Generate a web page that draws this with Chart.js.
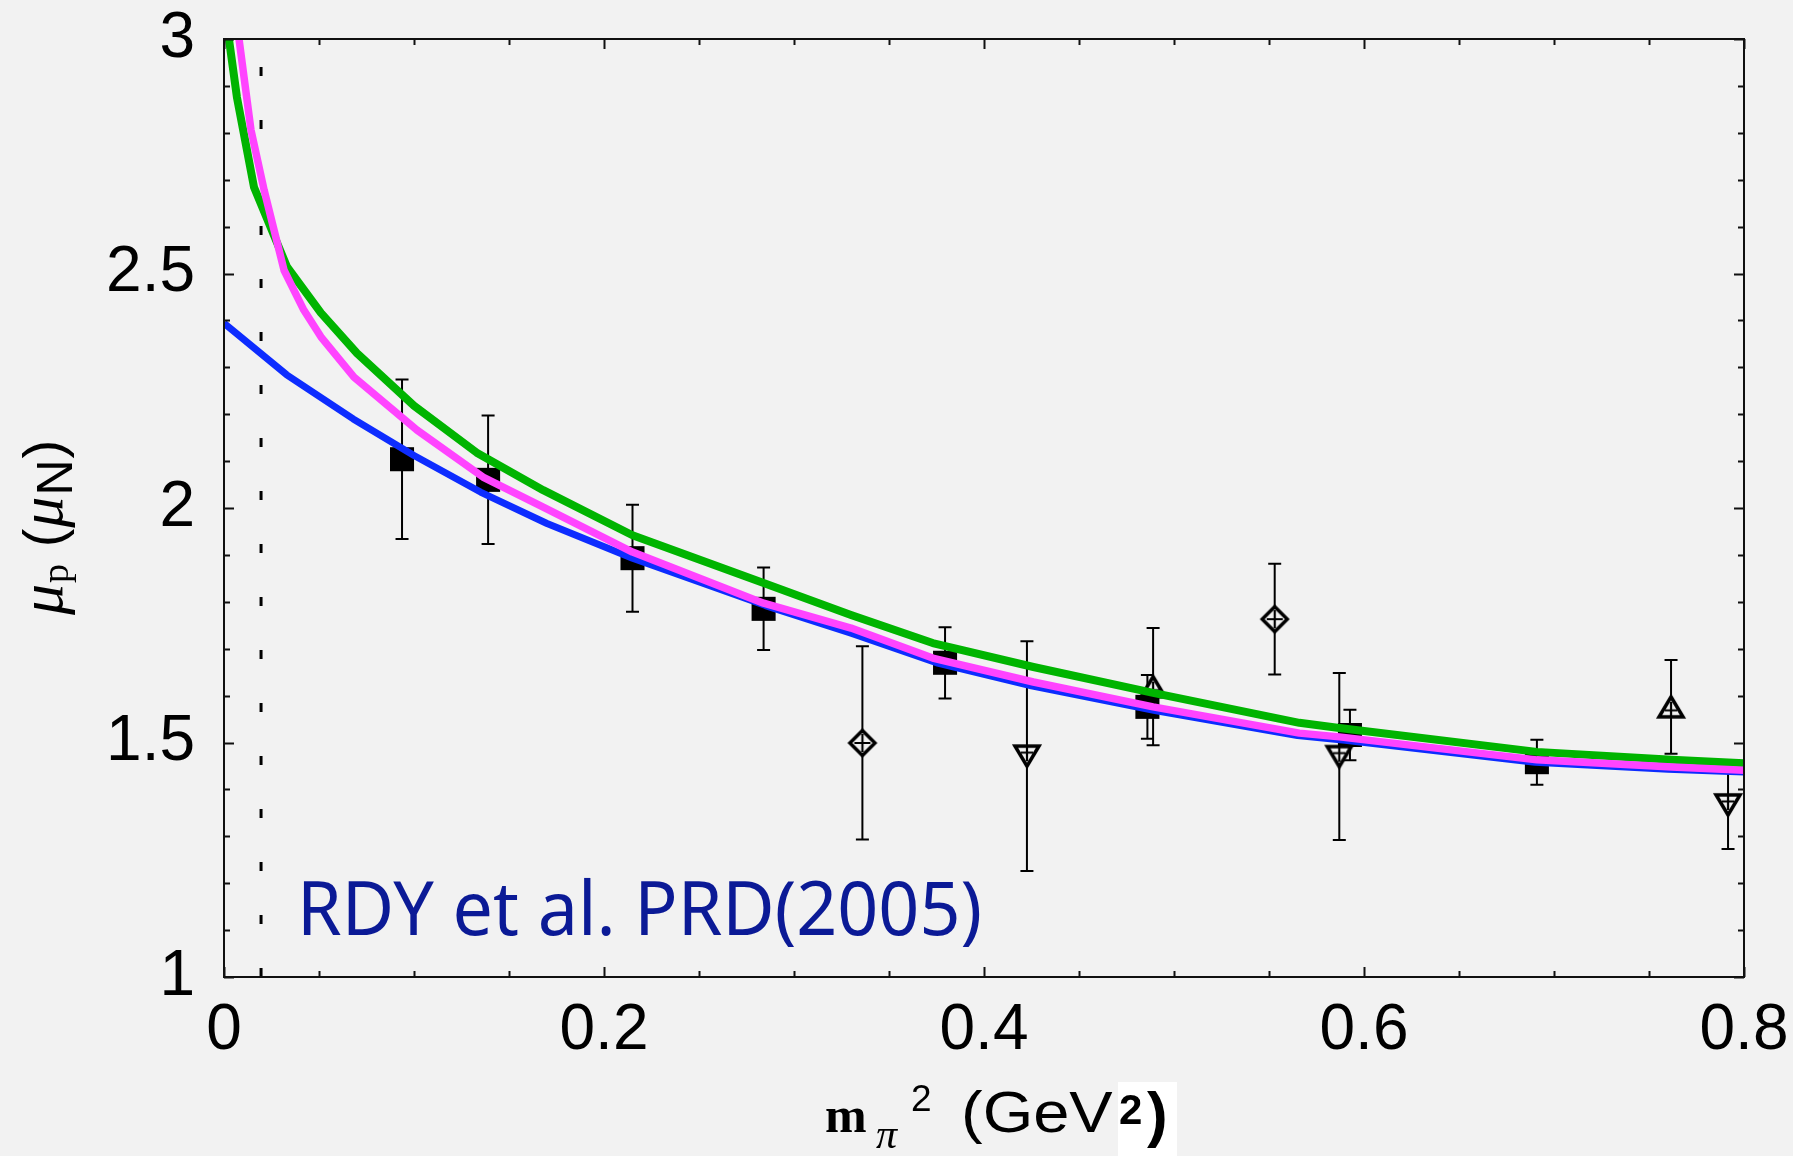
<!DOCTYPE html>
<html>
<head>
<meta charset="utf-8">
<title>mu_p vs m_pi^2</title>
<script src="https://cdn.jsdelivr.net/npm/chart.js@4.4.1/dist/chart.umd.min.js"></script>
<style>
  html, body { margin: 0; padding: 0; background: #f2f2f2; }
  #wrap { width: 1793px; height: 1156px; }
</style>
</head>
<body>
<div id="wrap"><canvas id="mu-p" width="1793" height="1156"></canvas></div>
<script>
// lattice data (x = m_pi^2 in GeV^2, y = mu_p in mu_N)
const squareX = [0.0937, 0.139, 0.215, 0.284, 0.3795, 0.486, 0.5926, 0.691];
const squareY = [2.104, 2.060, 1.893, 1.785, 1.670, 1.576, 1.516, 1.458];
const squareErr = [0.170, 0.137, 0.114, 0.088, 0.076, 0.068, 0.054, 0.048];

const diamondX = [0.336, 0.553];
const diamondY = [1.499, 1.763];
const diamondErr = [0.206, 0.118];

const triUpX = [0.489, 0.7616];
const triUpY = [1.619, 1.576];
const triUpErr = [0.125, 0.100];

const triDownX = [0.4226, 0.587, 0.7916];
const triDownY = [1.471, 1.470, 1.367];
const triDownErr = [0.245, 0.178, 0.094];

// chiral extrapolation curves
const blueX = [0, 0.033, 0.068, 0.1, 0.135, 0.17, 0.215, 0.285, 0.33, 0.375, 0.425, 0.49, 0.565, 0.59, 0.69, 0.76, 0.8];
const blueY = [2.394, 2.284, 2.190, 2.112, 2.034, 1.967, 1.893, 1.792, 1.733, 1.670, 1.621, 1.568, 1.515, 1.505, 1.458, 1.443, 1.437];

const greenX = [0.0026, 0.0068, 0.0158, 0.0332, 0.051, 0.07, 0.1, 0.133, 0.168, 0.215, 0.284, 0.33, 0.373, 0.426, 0.489, 0.566, 0.587, 0.691, 0.762, 0.8];
const greenY = [3.0, 2.876, 2.684, 2.514, 2.416, 2.330, 2.218, 2.118, 2.038, 1.942, 1.840, 1.772, 1.712, 1.661, 1.606, 1.542, 1.531, 1.480, 1.463, 1.456];

const magentaX = [0.0079, 0.0142, 0.0211, 0.0316, 0.042, 0.051, 0.0684, 0.1016, 0.1363, 0.168, 0.215, 0.284, 0.33, 0.373, 0.426, 0.489, 0.566, 0.587, 0.691, 0.762, 0.8];
const magentaY = [3.0, 2.806, 2.678, 2.507, 2.422, 2.365, 2.279, 2.166, 2.066, 2.002, 1.906, 1.797, 1.744, 1.680, 1.629, 1.576, 1.520, 1.512, 1.463, 1.448, 1.441];

// physical pion mass squared (dashed line)
const physicalX = [0.0195];

const xTickLabels = ['0', '0.2', '0.4', '0.6', '0.8'];
const yTickLabels = ['1', '1.5', '2', '2.5', '3'];

const BG = '#f2f2f2';
const SANS = "'Liberation Sans', Arial, Helvetica, sans-serif";
const SERIF = "'Liberation Serif', 'Times New Roman', serif";

function pts(xs, ys) {
  return xs.map((x, i) => ({ x: x, y: ys[i] }));
}

// open symbols with a small cross inside
function makeMarker(kind) {
  const c = document.createElement('canvas');
  c.width = 32; c.height = 32;
  const g = c.getContext('2d');
  g.strokeStyle = '#000';
  g.fillStyle = BG;
  g.lineWidth = 3.5;
  g.beginPath();
  if (kind === 'diamond') {
    g.moveTo(16, 3.5); g.lineTo(28.5, 16); g.lineTo(16, 28.5); g.lineTo(3.5, 16);
  } else if (kind === 'up') {
    g.moveTo(16, 6); g.lineTo(28, 26); g.lineTo(4, 26);
  } else {
    g.moveTo(4, 6); g.lineTo(28, 6); g.lineTo(16, 26);
  }
  g.closePath();
  g.fill();
  g.stroke();
  g.lineWidth = 2.2;
  g.beginPath();
  if (kind === 'diamond') {
    g.moveTo(8, 16); g.lineTo(24, 16); g.moveTo(16, 7); g.lineTo(16, 25);
  } else if (kind === 'up') {
    g.moveTo(10, 19.5); g.lineTo(22, 19.5); g.moveTo(16, 11); g.lineTo(16, 26);
  } else {
    g.moveTo(10, 12.5); g.lineTo(22, 12.5); g.moveTo(16, 6); g.lineTo(16, 21);
  }
  g.stroke();
  return c;
}

const errorSets = [
  [squareX, squareY, squareErr],
  [diamondX, diamondY, diamondErr],
  [triUpX, triUpY, triUpErr],
  [triDownX, triDownY, triDownErr]
];

const errorBars = {
  id: 'errorBars',
  beforeDatasetsDraw(chart) {
    const ctx = chart.ctx, xs = chart.scales.x, ys = chart.scales.y;
    ctx.save();
    ctx.strokeStyle = '#000';
    ctx.lineWidth = 2;
    errorSets.forEach(([X, Y, E]) => {
      X.forEach((x, i) => {
        const px = xs.getPixelForValue(x);
        const top = ys.getPixelForValue(Y[i] + E[i]);
        const bot = ys.getPixelForValue(Y[i] - E[i]);
        ctx.beginPath();
        ctx.moveTo(px, top); ctx.lineTo(px, bot);
        ctx.moveTo(px - 6.5, top); ctx.lineTo(px + 6.5, top);
        ctx.moveTo(px - 6.5, bot); ctx.lineTo(px + 6.5, bot);
        ctx.stroke();
      });
    });
    ctx.restore();
  }
};

// box frame with inward ticks on all four sides
const frame = {
  id: 'frame',
  afterDatasetsDraw(chart) {
    const ctx = chart.ctx, a = chart.chartArea;
    const xs = chart.scales.x, ys = chart.scales.y;
    ctx.save();
    ctx.strokeStyle = '#111';
    ctx.lineWidth = 2;
    ctx.strokeRect(a.left, a.top, a.right - a.left, a.bottom - a.top);
    ctx.beginPath();
    for (let i = 0; i <= 16; i++) {
      const px = Math.round(xs.getPixelForValue(i * 0.05)) + 0.5;
      const len = i % 4 === 0 ? 10 : 6;
      ctx.moveTo(px, a.bottom); ctx.lineTo(px, a.bottom - len);
      ctx.moveTo(px, a.top); ctx.lineTo(px, a.top + len);
    }
    for (let i = 0; i <= 20; i++) {
      const py = Math.round(ys.getPixelForValue(1 + i * 0.1)) + 0.5;
      const len = i % 5 === 0 ? 10 : 6;
      ctx.moveTo(a.left, py); ctx.lineTo(a.left + len, py);
      ctx.moveTo(a.right, py); ctx.lineTo(a.right - len, py);
    }
    ctx.stroke();
    ctx.restore();
  }
};

function drawPieces(ctx, pieces) {
  pieces.forEach(p => {
    ctx.save();
    ctx.font = p.font;
    ctx.translate(p.x, p.y);
    ctx.scale(p.sx || 1, 1);
    ctx.fillText(p.t, 0, 0);
    ctx.restore();
  });
}

const labels = {
  id: 'labels',
  afterDraw(chart) {
    const ctx = chart.ctx;
    ctx.save();
    ctx.fillStyle = '#000';
    ctx.textBaseline = 'alphabetic';
    ctx.textAlign = 'left';

    // x axis title: m_pi^2 (GeV^2)
    drawPieces(ctx, [
      { t: 'm', font: 'bold 50px ' + SERIF, x: 825, y: 1132 },
      { t: 'π', font: 'italic 42px ' + SERIF, x: 876, y: 1148 },
      { t: '2', font: '37px ' + SANS, x: 911, y: 1111 },
      { t: '(GeV', font: '58px ' + SANS, x: 961, y: 1132, sx: 1.12 }
    ]);
    ctx.fillStyle = '#fff';
    ctx.fillRect(1118, 1082, 59, 74);
    ctx.fillStyle = '#000';
    drawPieces(ctx, [
      { t: '2', font: 'bold 42px ' + SANS, x: 1119, y: 1124 },
      { t: ')', font: 'bold 62px ' + SANS, x: 1147, y: 1135 }
    ]);

    // y axis title: mu_p (mu_N), rotated
    ctx.save();
    ctx.translate(62, 615);
    ctx.rotate(-Math.PI / 2);
    const yPieces = [
      { t: 'μ', font: 'italic 62px ' + SERIF, dy: 0 },
      { t: 'p', font: '38px ' + SERIF, dy: 6 },
      { t: ' (', font: '56px ' + SANS, dy: 0 },
      { t: 'μ', font: 'italic 62px ' + SERIF, dy: 0 },
      { t: 'N', font: '50px ' + SANS, dy: 10 },
      { t: ')', font: '56px ' + SANS, dy: 0 }
    ];
    let cx = 0;
    yPieces.forEach(p => {
      ctx.font = p.font;
      ctx.fillText(p.t, cx, p.dy);
      cx += ctx.measureText(p.t).width + 1;
    });
    ctx.restore();

    // citation
    ctx.fillStyle = '#0b1a96';
    ctx.font = "74px 'Comic Sans MS', 'Noto Sans', sans-serif";
    ctx.fillText('RDY et al. PRD(2005)', 297, 935, 685);
    ctx.restore();
  }
};

const lineStyle = { showLine: true, pointRadius: 0, tension: 0, fill: false, borderJoinStyle: 'round' };

new Chart(document.getElementById('mu-p'), {
  type: 'scatter',
  data: {
    datasets: [
      Object.assign({ label: 'physical point', data: [{ x: physicalX[0], y: 3 }, { x: physicalX[0], y: 1 }],
        borderColor: '#000', borderWidth: 3, borderDash: [9, 44], borderDashOffset: 25, order: 6 }, lineStyle),
      { label: 'squares', data: pts(squareX, squareY), pointStyle: 'rect', pointRadius: 17,
        backgroundColor: '#000', borderWidth: 0, order: 5 },
      { label: 'diamonds', data: pts(diamondX, diamondY), pointStyle: makeMarker('diamond'), order: 5 },
      { label: 'up triangles', data: pts(triUpX, triUpY), pointStyle: makeMarker('up'), order: 5 },
      { label: 'down triangles', data: pts(triDownX, triDownY), pointStyle: makeMarker('down'), order: 5 },
      Object.assign({ label: 'blue', data: pts(blueX, blueY), borderColor: '#0d2cff', borderWidth: 7, order: 3 }, lineStyle),
      Object.assign({ label: 'green', data: pts(greenX, greenY), borderColor: '#00b400', borderWidth: 8, order: 2 }, lineStyle),
      Object.assign({ label: 'magenta', data: pts(magentaX, magentaY), borderColor: '#ff44ff', borderWidth: 7.5, order: 1 }, lineStyle)
    ]
  },
  options: {
    responsive: false,
    devicePixelRatio: 1,
    animation: false,
    layout: { padding: { left: 0, top: 39, right: 49, bottom: 0 } },
    plugins: { legend: { display: false }, tooltip: { enabled: false } },
    scales: {
      x: {
        type: 'linear', min: 0, max: 0.8,
        grid: { display: false, drawTicks: false },
        border: { display: false },
        ticks: {
          stepSize: 0.2, padding: 16, color: '#000', font: { family: SANS, size: 64 },
          callback: (v, i) => xTickLabels[i]
        },
        afterFit: (s) => { s.height = 179; s.paddingLeft = 0; s.paddingRight = 0; }
      },
      y: {
        type: 'linear', min: 1, max: 3,
        grid: { display: false, drawTicks: false },
        border: { display: false },
        ticks: {
          stepSize: 0.5, padding: 29, color: '#000', font: { family: SANS, size: 64 },
          callback: (v, i) => yTickLabels[i]
        },
        afterFit: (s) => { s.width = 224; s.paddingTop = 0; s.paddingBottom = 0; }
      }
    }
  },
  plugins: [errorBars, frame, labels]
});
</script>
</body>
</html>
